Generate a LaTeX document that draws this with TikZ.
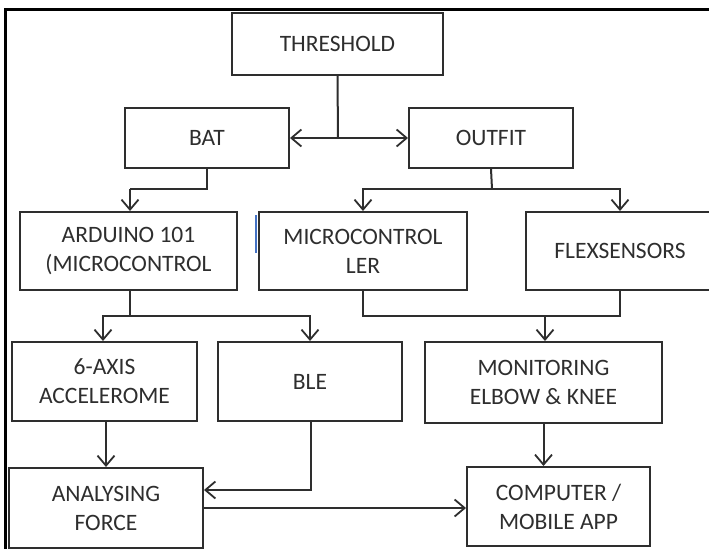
\documentclass[tikz,border=0pt]{standalone}
\usepackage{fontspec}
\setmainfont{Carlito}
\usetikzlibrary{arrows.meta}
\definecolor{ink}{HTML}{2E2E2E}
\definecolor{cursorblue}{HTML}{4472C4}
\begin{document}
\begin{tikzpicture}[x=1pt,y=-1pt,
  box/.style={draw=ink,line width=2pt,rectangle,inner sep=0pt,align=center,
    text=ink,font=\fontsize{23.5}{29}\selectfont},
  conn/.style={draw=ink,line width=2pt},
  tip/.style={Straight Barb[length=10pt,width=17pt,line width=1.8pt]},
  arr/.style={conn,-{Straight Barb[length=10pt,width=17pt,line width=1.8pt]}},
  biarr/.style={conn,{Straight Barb[length=10pt,width=17pt,line width=1.8pt]}-{Straight Barb[length=10pt,width=17pt,line width=1.8pt]}}]
\useasboundingbox (0,0) rectangle (709,549);
\fill[white] (0,0) rectangle (709,549);
\begin{scope}
\clip (0,0) rectangle (709,549);
% outer frame
\draw[line width=3.5pt,black] (4,9.5) -- (709,9.5);
\draw[line width=3.5pt,black] (5.5,8) -- (5.5,549);
% nodes
\node[box,minimum width=211pt,minimum height=62pt] (thr) at (337.5,44) {THRESHOLD};
\node[box,minimum width=164pt,minimum height=60pt] (bat) at (207,138) {BAT};
\node[box,minimum width=164pt,minimum height=60pt] (out) at (491,138) {OUTFIT};
\node[box,minimum width=217pt,minimum height=78pt] (ard) at (128.5,251) {ARDUINO 101\\(MICROCONTROL};
\node[box,minimum width=208pt,minimum height=78pt] (mc) at (363,251) {MICROCONTROL\\LER};
\node[box,minimum width=188pt,minimum height=78pt] (flex) at (620,251) {FLEXSENSORS};
\node[box,minimum width=185pt,minimum height=79pt] (acc) at (104.5,381.5) {6-AXIS\\ACCELEROME};
\node[box,minimum width=184pt,minimum height=79pt] (ble) at (310,381.5) {BLE};
\node[box,minimum width=237pt,minimum height=81pt] (mon) at (543.5,382.5) {MONITORING\\ELBOW \& KNEE};
\node[box,minimum width=194pt,minimum height=80pt] (ana) at (106,508) {ANALYSING\\FORCE};
\node[box,minimum width=183pt,minimum height=79pt] (comp) at (558.5,506.5) {COMPUTER /\\MOBILE APP};
% stray cursor mark
\draw[cursorblue,line width=2pt] (255.5,215) -- (255.5,253);
% junction coordinates
\coordinate (jt) at (338,138);
\coordinate (jb) at (130,189);
\coordinate (jo) at (492,189);
\coordinate (ja) at (130,316);
\coordinate (jm) at (545,316);
% connectors
\draw[conn] (thr.south) -- (jt);
\draw[biarr] (bat.east) -- (out.west);
\draw[conn] (bat.south) -- (bat.south |- jb) -- (jb);
\draw[arr] (jb) -- (jb |- ard.north);
\draw[conn] (out.south) -- (jo);
\draw[arr] (jo) -| (mc.north);
\draw[arr] (jo) -| (flex.north);
\draw[conn] (ard.south -| ja) -- (ja);
\draw[arr] (ja) -| ([xshift=-1.5pt]acc.north);
\draw[arr] (ja) -| (ble.north);
\draw[conn] (mc.south) |- (jm) -| (flex.south);
\draw[arr] (jm) -- (jm |- mon.north);
\draw[arr] (ana.north |- acc.south) -- (ana.north);
\draw[arr] ([xshift=1pt]ble.south) |- ([yshift=18pt]ana.east);
\draw[arr] (ana.east) -- (ana.east -| comp.west);
\draw[arr] (mon.south) -- (mon.south |- comp.north);
\end{scope}
\end{tikzpicture}
\end{document}
